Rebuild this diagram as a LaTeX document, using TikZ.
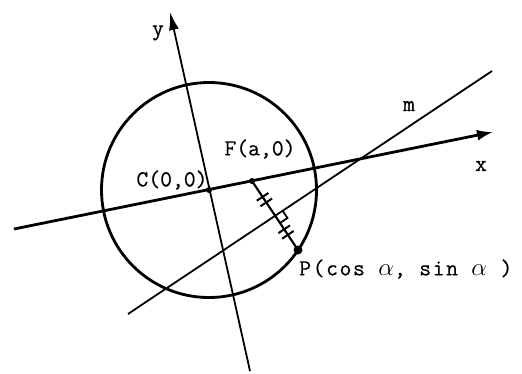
\documentclass[tikz,border=0pt]{standalone}
\usepackage{fontspec}
\setmonofont[FakeBold=0.5]{Latin Modern Mono}
\newfontfamily\plabelfont[LetterSpace=7,FakeBold=0.5]{Latin Modern Mono}
\usetikzlibrary{arrows.meta,calc,decorations.markings}

\begin{document}
\begin{tikzpicture}[x=1pt, y=-1pt,
    axis/.style={line width=2.8pt, -{Latex[length=16pt, width=11pt]}},
    thinline/.style={line width=1.8pt},
    lbl/.style={font=\ttfamily\fontsize{23}{25}\selectfont, inner sep=0pt},
    pt/.style={circle, fill, inner sep=0pt, minimum size=#1},
    ticks/.style={postaction={decorate}, decoration={markings,
      mark=at position 0.23 with {\draw[line width=2pt] (0,-7pt) -- (0,7pt);},
      mark=at position 0.31 with {\draw[line width=2pt] (0,-7pt) -- (0,7pt);},
      mark=at position 0.70 with {\draw[line width=2pt] (0,-7pt) -- (0,7pt);},
      mark=at position 0.78 with {\draw[line width=2pt] (0,-7pt) -- (0,7pt);}}}
  ]
    \useasboundingbox (0,0) rectangle (522,373);

    % points
    \coordinate (C) at (209,190);
    \coordinate (F) at (252,181);
    \coordinate (P) at (298,250);
    \coordinate (M) at ($(F)!0.5!(P)$);
    \coordinate (xlo) at (14,229);
    \coordinate (xhi) at (493,132);
    \coordinate (ylo) at (250,371);
    \coordinate (yhi) at (170,12);
    \coordinate (mlo) at (128,314);
    \coordinate (mhi) at (492,71);

    \draw[line width=2.8pt] (C) circle (107.5);
    \draw[axis] (xlo) -- (xhi);
    \draw[axis, line width=1.8pt, -{Latex[length=18pt, width=10pt]}] (ylo) -- (yhi);
    \draw[thinline] (mlo) -- (mhi);
    \draw[line width=2.2pt, ticks] (F) -- (P);

    % right angle at M
    \coordinate (ra) at ($(M)!9pt!(P)$);
    \coordinate (rb) at ($(M)!9pt!(mhi)$);
    \draw[line width=1.8pt] (ra) -- ($(ra)+(rb)-(M)$) -- (rb);

    \node[pt=6pt] (cdot) at (C) {};
    \node[pt=6pt] (fdot) at (F) {};
    \node[pt=9pt] (pdot) at (P) {};

    \node[lbl] (ylab) at (158,33) {y};
    \node[lbl] (xlab) at (481,166) {x};
    \node[lbl] (mlab) at (409,106) {m};
    \node[lbl] (clab) at (172,180) {C(0,0)};
    \node[lbl] (flab) at (260,149) {F(a,0)};
    \node[lbl, anchor=west, font=\plabelfont\fontsize{23}{25}\selectfont] (plab) at (299,269) {P(cos $\alpha$, sin $\alpha$ )};
  \end{tikzpicture}
\end{document}
